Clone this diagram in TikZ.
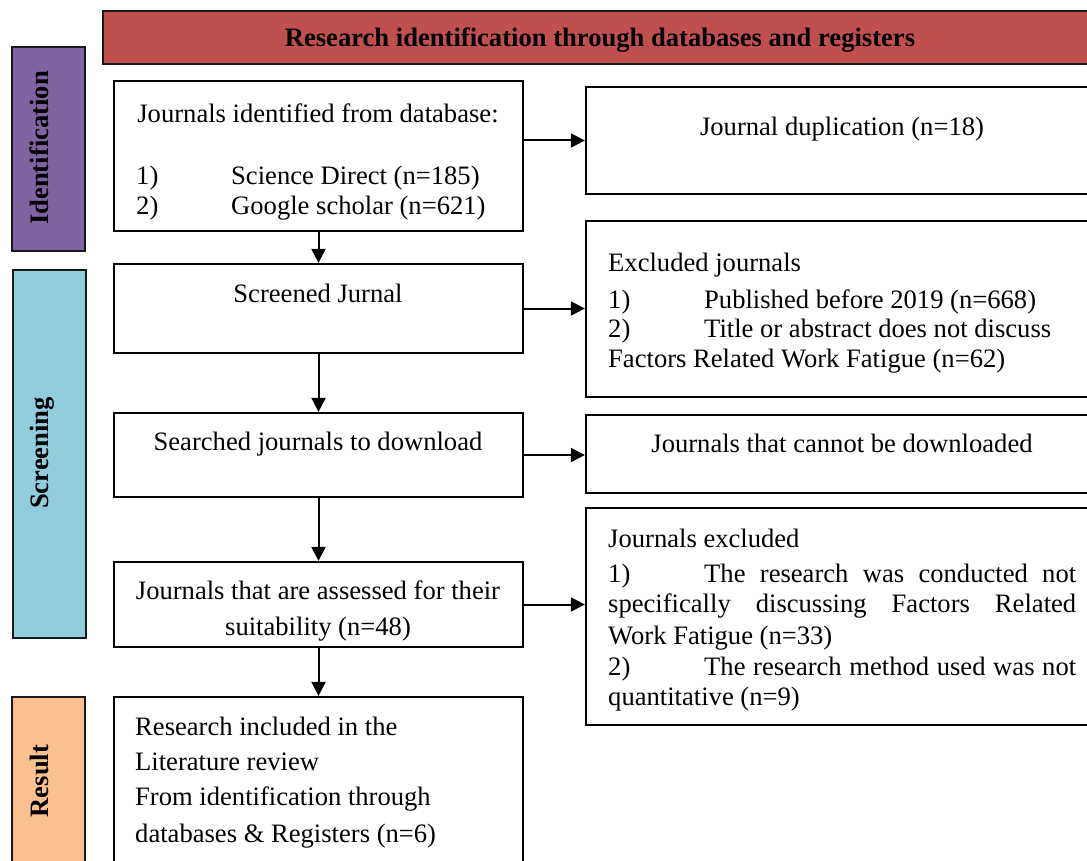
\documentclass[tikz,border=0pt]{standalone}
\usepackage{fontspec}
\setmainfont{Liberation Serif}
\usetikzlibrary{arrows.meta}
\definecolor{titlered}{RGB}{192,80,77}
\definecolor{idpurple}{RGB}{128,100,162}
\definecolor{scrblue}{RGB}{146,205,220}
\definecolor{resorange}{RGB}{250,192,144}
\newcommand{\fs}{\fontsize{26.6}{31}\selectfont}
\begin{document}
\begin{tikzpicture}[x=1pt,y=-1pt,
  box/.style={draw=black, line width=2.2pt, fill=white, inner sep=0},
  side/.style={draw=black!90, line width=2.6pt, inner sep=0},
  txt/.style={font=\fs, inner sep=0, anchor=base west, yshift=-2.5pt},
  ctxt/.style={font=\fs, inner sep=0, anchor=base, yshift=-2.5pt},
  sidetxt/.style={font=\fs\bfseries, rotate=90, inner sep=0, anchor=north, xshift=1pt},
  arr/.style={line width=2pt, -{Triangle[length=14pt,width=14pt]}}]
\useasboundingbox (0,0) rectangle (1087,861);
\clip (0,0) rectangle (1087,861);
\fill[white] (0,0) rectangle (1087,861);

% title bar
\node[side, fill=titlered, minimum width=994pt, minimum height=53pt] (title) at (600,37.5) {};
\node[ctxt, font=\fs\bfseries] (titletxt) at (600,44) {Research identification through databases and registers};

% side bars
\node[side, fill=idpurple, minimum width=73pt, minimum height=204pt] (sid) at (48.5,149) {};
\node[sidetxt] (sidt) at (30,149) {Identification};
\node[side, fill=scrblue, minimum width=73pt, minimum height=368pt] (sscr) at (49.5,454) {};
\node[sidetxt] (sscrt) at (30,454) {Screening};
\node[side, fill=resorange, minimum width=73pt, minimum height=170pt] (sres) at (48.5,782) {};
\node[sidetxt] (srest) at (30,782) {Result};

% left column boxes
\node[box, minimum width=409pt, minimum height=150pt] (b1) at (318.5,156) {};
\node[box, minimum width=409pt, minimum height=89pt] (b2) at (318.5,308.5) {};
\node[box, minimum width=409pt, minimum height=84pt] (b3) at (318.5,455) {};
\node[box, minimum width=409pt, minimum height=85pt] (b4) at (318.5,604.5) {};
\node[box, minimum width=409pt, minimum height=183pt] (b5) at (318.5,788.5) {};

% right column boxes
\node[box, minimum width=511pt, minimum height=107pt] (r1) at (841.5,140.5) {};
\node[box, minimum width=511pt, minimum height=176pt] (r2) at (841.5,309) {};
\node[box, minimum width=511pt, minimum height=78pt] (r3) at (841.5,454) {};
\node[box, minimum width=511pt, minimum height=217pt] (r4) at (841.5,616.5) {};

% texts b1
\node[ctxt] (b1t) at (318,120) {Journals identified from database:};
\node[txt] (b1n1) at (136,182) {1)};
\node[txt] (b1a) at (231,182) {Science Direct (n=185)};
\node[txt] (b1n2) at (136,212) {2)};
\node[txt] (b1b) at (231,212) {Google scholar (n=621)};
% b2-b4
\node[ctxt] (b2t) at (318,300) {Screened Jurnal};
\node[ctxt] (b3t) at (318,448) {Searched journals to download};
\node[ctxt] (b4t) at (318,597) {Journals that are assessed for their};
\node[ctxt] (b4u) at (318,633) {suitability (n=48)};
% b5
\node[txt] (b5a) at (135,733) {Research included in the};
\node[txt] (b5b) at (135,768) {Literature review};
\node[txt] (b5c) at (135,803) {From identification through};
\node[txt] (b5d) at (135,840) {databases \& Registers (n=6)};

% right texts
\node[ctxt] (r1t) at (842,133) {Journal duplication (n=18)};
\node[txt] (r2a) at (608,269) {Excluded journals};
\node[txt] (r2n1) at (608,306) {1)};
\node[txt] (r2b) at (704,306) {Published before 2019 (n=668)};
\node[txt] (r2n2) at (608,335) {2)};
\node[txt] (r2c) at (704,335) {Title or abstract does not discuss};
\node[txt] (r2d) at (608,365) {Factors Related Work Fatigue (n=62)};
\node[ctxt] (r3t) at (842,450) {Journals that cannot be downloaded};
\node[txt] (r4a) at (608,545) {Journals excluded};
\node[txt] (r4n1) at (608,580) {1)};
\node[txt] (r4b) at (704,580) {\makebox[372pt][s]{The research was conducted not}};
\node[txt] (r4c) at (608,610) {\makebox[468pt][s]{specifically discussing Factors Related}};
\node[txt] (r4d) at (608,642) {Work Fatigue (n=33)};
\node[txt] (r4n2) at (608,673) {2)};
\node[txt] (r4e) at (704,673) {\makebox[372pt][s]{The research method used was not}};
\node[txt] (r4f) at (608,703) {quantitative (n=9)};

% arrows
\draw[arr] (b1) -- (b2);
\draw[arr] (b2) -- (b3);
\draw[arr] (b3) -- (b4);
\draw[arr] (b4) -- (b5);
\draw[arr] (b1.east |- r1.west) -- (r1.west);
\draw[arr] (b2.east) -- (b2.east -| r2.west);
\draw[arr] (b3.east) -- (b3.east -| r3.west);
\draw[arr] (b4.east) -- (b4.east -| r4.west);
\end{tikzpicture}
\end{document}
